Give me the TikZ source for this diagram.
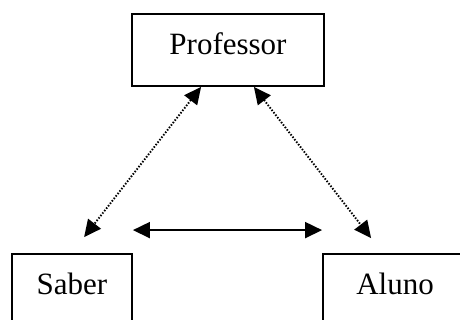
\documentclass[tikz,border=0pt]{standalone}
\usepackage{fontspec}
\setmainfont{Liberation Serif}
\usetikzlibrary{arrows.meta}
\tikzset{
  box/.style={draw, line width=1.8pt, minimum height=72pt, inner sep=0pt,
    font=\fontsize{31}{31}\selectfont, text height=20pt, text depth=10pt},
  tip/.style={Triangle[length=17pt,width=16pt]},
  solidarrow/.style={line width=1.8pt, {Triangle[length=17pt,width=16pt]}-{Triangle[length=17pt,width=16pt]}},
  dotarrow/.style={line width=1.9pt, dash pattern=on 1.5pt off 1.6pt,
    {Triangle[length=17pt,width=16pt]}-{Triangle[length=17pt,width=16pt]}}
}
\begin{document}
\begin{tikzpicture}[x=1pt,y=1pt]
\useasboundingbox (0,0) rectangle (460,320);
\clip (0,0) rectangle (460,320);
\fill[white] (0,0) rectangle (460,320);
\node[box, minimum width=192pt] (prof) at (228,270) {Professor};
\node[box, minimum width=120pt] (saber) at (72,30) {Saber};
\node[box, minimum width=144pt] (aluno) at (395,30) {Aluno};
\draw[solidarrow] ([yshift=23pt]saber.north east) -- ([yshift=23pt]aluno.north west);
\draw[dotarrow] ([xshift=70pt]prof.south west) -- ([xshift=73pt,yshift=16pt]saber.north west);
\draw[dotarrow] ([xshift=-71pt]prof.south east) -- ([xshift=49pt,yshift=15pt]aluno.north west);
\end{tikzpicture}
\end{document}
